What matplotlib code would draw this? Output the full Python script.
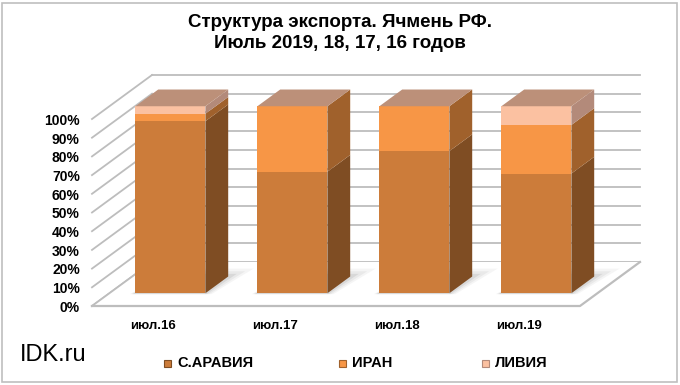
import matplotlib
matplotlib.use("Agg")
import matplotlib.pyplot as plt
from matplotlib import font_manager
from matplotlib.patches import Polygon, Rectangle

# data (shares, %)
categories = ["июл.16", "июл.17", "июл.18", "июл.19"]
series_names = ["С.АРАВИЯ", "ИРАН", "ЛИВИЯ"]
saudi = [92, 65, 76, 64]
iran = [4, 35, 24, 26]
libya = [4, 0, 0, 10]
yticks = list(range(0, 101, 10))

front_colors = ["#CC7C3A", "#F79646", "#FBC1A1"]
side_colors = ["#7F4D23", "#A0612C", "#B38A7A"]
top_color = "#BC9079"
grid_color = "#BDBDBD"

names = {f.name for f in font_manager.fontManager.ttflist}
narrow = "Liberation Sans Narrow" if "Liberation Sans Narrow" in names else "Liberation Sans"
plt.rcParams["font.family"] = [narrow, "DejaVu Sans"]

W, H = 680, 385
# pixel anchors of the oblique projection
px_x0, px_per_cat = 153, 122
px_y0, px_per_pct = 306, 1.87
DX = 60 / px_per_cat          # full depth offset in data units
DY = 44 / px_per_pct
d0, d1 = 0.29, 0.67           # bar front / back depth
w = 70 / px_per_cat


def P(x, y, d):
    return (x + d * DX, y + d * DY)


fig = plt.figure(figsize=(W / 100, H / 100), dpi=100)
ax = fig.add_axes([0, 0, 1, 1])
ax.set_xlim(-px_x0 / px_per_cat, (W - px_x0) / px_per_cat)
ax.set_ylim((px_y0 - H) / px_per_pct, px_y0 / px_per_pct)
ax.axis("off")

n = len(categories)
xl, xr = -0.5, n - 0.5

# walls
for p in yticks:
    ax.plot(*zip(P(xl, p, 1), P(xr, p, 1)), color=grid_color, lw=1.3, zorder=1)
    ax.plot(*zip(P(xl, p, 0), P(xl, p, 1)), color=grid_color, lw=1.3, zorder=1)
    ax.text(xl - 0.1, p - 1, f"{p}%", ha="right", va="center",
            fontsize=10, fontweight="bold", family="Liberation Sans")

# floor
floor = Polygon([P(xl, 0, 0), P(xr, 0, 0), P(xr, 0, 1), P(xl, 0, 1)],
                closed=True, facecolor="white", edgecolor="none", zorder=1.5)
ax.add_patch(floor)
ax.plot(*zip(P(xl, 0, 0), P(xr, 0, 0), P(xr, 0, 1)), color=grid_color, lw=1.6, zorder=2)
ax.plot(*zip(P(xl, 0, 0), P(xl, 0, 1)), color=grid_color, lw=1.3, zorder=2)

# soft shadows under bars
for i in range(n):
    for k, a in enumerate([0.06, 0.08, 0.12]):
        g = 0.06 - 0.02 * k
        sh = Polygon([P(i - w / 2 - g * 0.6, 0, d0 - 0.02), P(i + w / 2 + g, 0, d0 - 0.02),
                      P(i + w / 2 + g * 2, 0, d1 + g * 3), P(i - w / 2 + g, 0, d1 + g * 3)],
                     closed=True, facecolor="#606060", edgecolor="none", alpha=a, zorder=2.5)
        ax.add_patch(sh)

# stacked 3d bars
series = [saudi, iran, libya]
bottoms = [0] * n
xf = [i + d0 * DX for i in range(n)]
for s, vals in enumerate(series):
    ax.bar(xf, vals, bottom=[b + d0 * DY for b in bottoms], width=w,
           color=front_colors[s], edgecolor="none", zorder=3)
    for i, v in enumerate(vals):
        if v <= 0:
            continue
        b = bottoms[i]
        x2 = i + w / 2
        side = Polygon([P(x2, b, d0), P(x2, b, d1), P(x2, b + v, d1), P(x2, b + v, d0)],
                       closed=True, facecolor=side_colors[s], edgecolor="none", zorder=3)
        ax.add_patch(side)
    bottoms = [b + v for b, v in zip(bottoms, vals)]

for i, tot in enumerate(bottoms):
    x1, x2 = i - w / 2, i + w / 2
    top = Polygon([P(x1, tot, d0), P(x2, tot, d0), P(x2, tot, d1), P(x1, tot, d1)],
                  closed=True, facecolor=top_color, edgecolor="none", zorder=3)
    ax.add_patch(top)

# category labels
for i, c in enumerate(categories):
    ax.text(i, -10.5, c, ha="center", va="center", fontsize=9.5, fontweight="bold",
            family="Liberation Sans")

# title
fig.text(0.5, 1 - 33 / H, "Структура экспорта. Ячмень РФ.\nИюль 2019, 18, 17, 16 годов",
         ha="center", va="center", fontsize=13.5, fontweight="bold", linespacing=1.25)

# legend
leg_x = [167, 342, 485]
leg_y = 363
for (lx, name, fc, sc) in zip(leg_x, series_names, front_colors, side_colors):
    fig.patches.append(Rectangle(((lx - 3.5) / W, 1 - (leg_y + 3.5) / H), 7 / W, 7 / H,
                                 transform=fig.transFigure, facecolor=fc,
                                 edgecolor=sc, lw=0.8))
    fig.text((lx + 10) / W, 1 - leg_y / H, name, ha="left", va="center",
             fontsize=10.5, fontweight="bold")

fig.text(20 / W, 1 - 355 / H, "IDK.ru", ha="left", va="center", fontsize=17)

# chart border
fig.patches.append(Rectangle((2 / W, 3 / H), 675 / W, 379 / H, transform=fig.transFigure,
                             facecolor="none", edgecolor="#BFBFBF", lw=1.2))

plt.savefig("out.png", dpi=100)
